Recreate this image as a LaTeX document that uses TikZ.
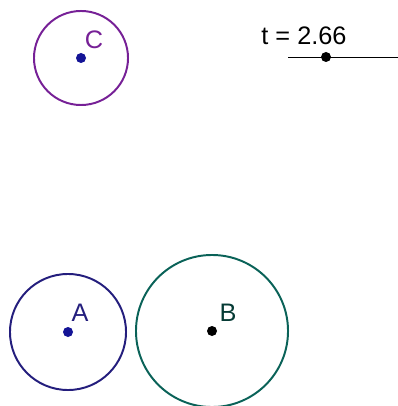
\documentclass[tikz,border=0pt]{standalone}
\usepackage{fontspec}
\setmainfont{Liberation Sans}
\definecolor{ringC}{RGB}{118,32,150}
\definecolor{ringA}{RGB}{36,30,125}
\definecolor{ringB}{RGB}{10,98,88}
\definecolor{dotblue}{RGB}{20,20,150}
\begin{document}
\begin{tikzpicture}[x=0.025cm, y=-0.025cm,
  pt/.style={circle, fill, inner sep=0pt, minimum size=0.25cm},
  ring/.style={circle, draw, line width=1.4pt, inner sep=0pt},
  lbl/.style={font=\fontsize{18}{20}\selectfont, inner sep=0pt}
]
\useasboundingbox (0,0) rectangle (398,406);
\node[pt, fill=dotblue] (C) at (81,58) {};
\node[ring, draw=ringC, minimum size=2.35cm] (circC) at (C) {};
\node[lbl, text=ringC] (labC) at (94,40) {C};

\node[pt, fill=dotblue] (A) at (68,332) {};
\node[ring, draw=ringA, minimum size=2.9cm] (circA) at (A) {};
\node[lbl, text=ringA] (labA) at (80,313) {A};

\node[pt, fill=black] (B) at (212,331) {};
\node[ring, draw=ringB, minimum size=3.8cm] (circB) at (B) {};
\node[lbl, text=ringB!60!black] (labB) at (228,313) {B};

\node[lbl] (tval) at (304,36) {t = 2.66};
\coordinate (s0) at (288,57);
\coordinate (s1) at (398,57);
\draw[line width=0.6pt] (s0) -- (s1);
\node[pt, fill=black] (t) at (326,57) {};
\end{tikzpicture}
\end{document}
